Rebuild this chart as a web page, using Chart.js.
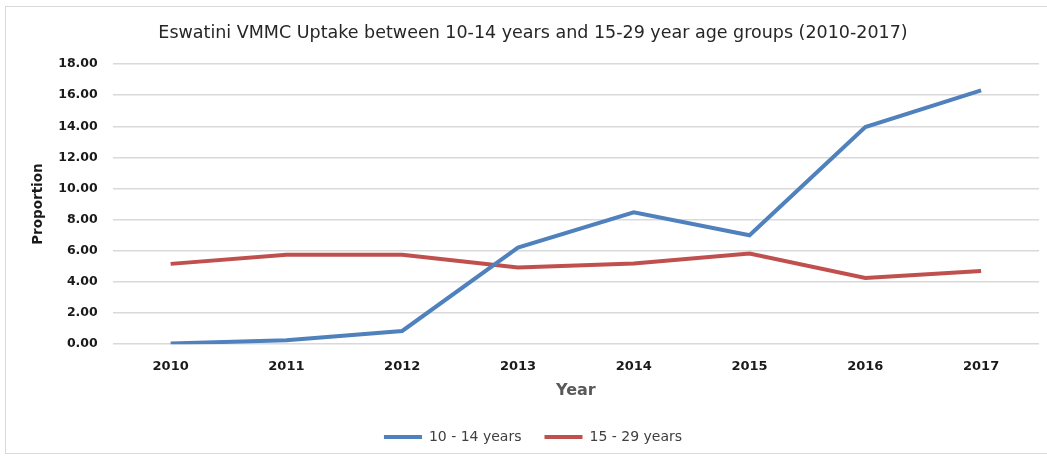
<!DOCTYPE html>
<html>
<head>
<meta charset="utf-8">
<script src="https://cdn.jsdelivr.net/npm/chart.js@4.4.1/dist/chart.umd.min.js"></script>
<style>
  html, body { margin: 0; padding: 0; background: #fff; }
  #moldura { position: absolute; left: 5px; top: 6px; width: 1050px; height: 448px; border: 1.5px solid #d9d9d9; box-sizing: border-box; }
  #grafico { position: absolute; left: 0; top: 0; }
</style>
</head>
<body>
<div id="moldura"></div>
<canvas id="grafico" width="1047" height="458"></canvas>
<script>
// dados
const anos = ['2010', '2011', '2012', '2013', '2014', '2015', '2016', '2017'];
const faixa10a14 = [0.05, 0.25, 0.85, 6.2, 8.47, 7.0, 13.95, 16.3];
const faixa15a29 = [5.16, 5.74, 5.74, 4.92, 5.18, 5.83, 4.26, 4.71];
const ticksY = [0, 2, 4, 6, 8, 10, 12, 14, 16, 18];

const fonte = "'DejaVu Sans', Verdana, sans-serif";

const grafico = document.getElementById('grafico');
new Chart(grafico, {
    type: 'line',
    data: {
        labels: anos,
        datasets: [{
            label: '10 - 14 years',
            data: faixa10a14,
            borderColor: '#4f81bd',
            backgroundColor: '#4f81bd',
            borderWidth: 4,
            pointRadius: 0,
            tension: 0
        }, {
            label: '15 - 29 years',
            data: faixa15a29,
            borderColor: '#c0504d',
            backgroundColor: '#c0504d',
            borderWidth: 4,
            pointRadius: 0,
            tension: 0
        }]
    },
    options: {
        responsive: false,
        animation: false,
        layout: { padding: { left: 27, right: 8, top: 15, bottom: 4 } },
        plugins: {
            title: {
                display: true,
                text: 'Eswatini VMMC Uptake between 10-14 years and 15-29 year age groups (2010-2017)',
                color: '#262626',
                font: { family: fonte, size: 17.5, weight: 'normal' },
                padding: { top: 8, bottom: 20 }
            },
            legend: {
                position: 'bottom',
                labels: {
                    boxWidth: 38,
                    boxHeight: 0,
                    color: '#404040',
                    padding: 23,
                    font: { family: fonte, size: 14 }
                }
            },
            tooltip: { enabled: false }
        },
        scales: {
            x: {
                offset: true,
                grid: { display: false, drawTicks: false },
                border: { display: false },
                ticks: {
                    color: '#1a1a1a',
                    padding: 15,
                    font: { family: fonte, size: 13, weight: 'bold' }
                },
                title: {
                    display: true,
                    text: 'Year',
                    color: '#595959',
                    padding: { top: -9, bottom: 7 },
                    font: { family: fonte, size: 16, weight: 'bold' }
                }
            },
            y: {
                min: 0,
                max: 18,
                afterBuildTicks: function (eixo) {
                    eixo.ticks = ticksY.map(v => ({ value: v }));
                },
                grid: { color: '#d9d9d9', lineWidth: 1.5, drawTicks: false },
                border: { display: false },
                ticks: {
                    color: '#1a1a1a',
                    padding: 15,
                    font: { family: fonte, size: 12.5, weight: 'bold' },
                    callback: v => v.toFixed(2)
                },
                title: {
                    display: true,
                    text: 'Proportion',
                    color: '#1a1a1a',
                    padding: { top: 3, bottom: -3 },
                    font: { family: fonte, size: 13.5, weight: 'bold' }
                }
            }
        }
    }
});
</script>
</body>
</html>
